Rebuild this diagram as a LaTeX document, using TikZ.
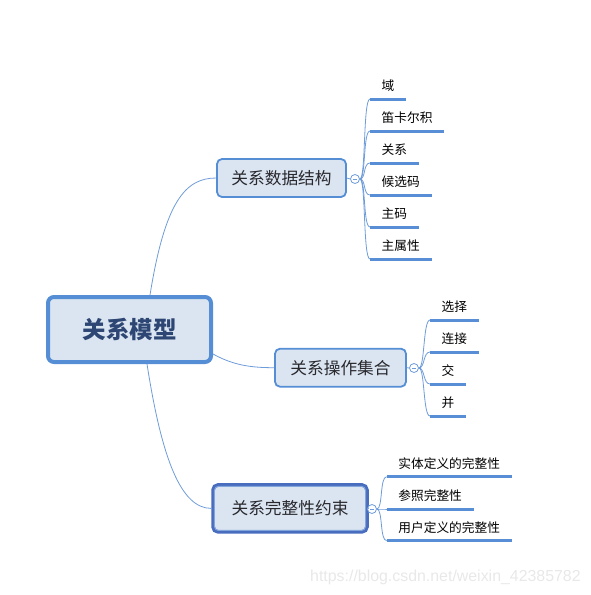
\documentclass[tikz,border=0pt]{standalone}
\usepackage{fontspec}
\newfontfamily\cjk{Noto Sans CJK SC}
\newfontfamily\wmfont{Liberation Sans}
\definecolor{rootb}{RGB}{85,142,213}
\definecolor{fillc}{RGB}{219,229,241}
\definecolor{n3b}{RGB}{72,108,190}
\definecolor{n3in}{RGB}{130,165,220}
\definecolor{ulc}{RGB}{88,142,214}
\definecolor{linkc}{RGB}{110,155,217}
\definecolor{roottxt}{RGB}{45,70,115}
\definecolor{ntxt}{RGB}{40,40,45}
\begin{document}
\begin{tikzpicture}[x=1pt,y=-1pt,
  rootbox/.style={draw=rootb, line width=4pt, fill=fillc, rounded corners=6pt,
    minimum width=163pt, minimum height=65pt, inner sep=0pt,
    font=\cjk\bfseries\fontsize{23.5}{26}\selectfont, text=roottxt},
  topicbox/.style={draw=rootb, line width=1.8pt, fill=fillc, rounded corners=5pt,
    minimum height=38pt, inner sep=0pt,
    font=\cjk\fontsize{16.7}{19}\selectfont, text=ntxt},
  leaf/.style={anchor=south west, inner xsep=11.5pt, inner ysep=8pt, text depth=0pt,
    font=\cjk\fontsize{12.7}{14}\selectfont, text=black},
  uline/.style={draw=ulc, line width=3pt},
  conn/.style={draw=linkc, line width=0.8pt},
  collapse/.style={circle, draw=linkc, line width=0.8pt, fill=white, minimum size=9pt, inner sep=0pt},
]
\useasboundingbox (0,0) rectangle (590,595);

% main nodes
\node[rootbox] (root) at (129.5,329.5) {关系模型};
\node[topicbox, minimum width=129pt] (n1) at (281.5,178) {关系数据结构};
\node[topicbox, minimum width=131pt] (n2) at (340.5,367.7) {关系操作集合};
\node[topicbox, draw=n3b, line width=3.5pt, minimum width=154pt, minimum height=47pt] (n3) at (290,508.4) {关系完整性约束};
\draw[draw=n3in, line width=1pt, rounded corners=4pt]
  ([shift={(3.2pt,-3.2pt)}]n3.north west) rectangle ([shift={(-3.2pt,3.2pt)}]n3.south east);

% root connectors
\draw[conn] ([xshift=20.5pt]root.north) .. controls +(15,-93) and +(-31,0) .. (n1.west);
\draw[conn] ([yshift=-24.5pt]root.east) .. controls +(20,11) and +(-24,0) .. (n2.west);
\draw[conn] ([xshift=17.5pt]root.south) .. controls +(15,96) and +(-30,0) .. (n3.west);

% collapse markers
\node[collapse] (k1) at (355,179) {};
\node[collapse] (k2) at (414,368) {};
\node[collapse] (k3) at (372,509) {};
\foreach \k in {k1,k2,k3}{\draw[linkc, line width=0.6pt] ([xshift=-2.2pt]\k.center) -- ([xshift=2.2pt]\k.center);}
\draw[conn] (n1.east) -- (k1.west);
\draw[conn] (n2.east) -- (k2.west);
\draw[conn] (n3.east) -- (k3.west);

% leaves of n1
\node[leaf] (a1) at (370,99) {域};
\node[leaf] (a2) at (370,131) {笛卡尔积};
\node[leaf] (a3) at (370,163) {关系};
\node[leaf] (a4) at (370,195) {候选码};
\node[leaf] (a5) at (370,227) {主码};
\node[leaf] (a6) at (370,259) {主属性};
% leaves of n2
\node[leaf] (b1) at (430,320) {选择};
\node[leaf] (b2) at (430,352) {连接};
\node[leaf] (b3) at (430,384) {交};
\node[leaf] (b4) at (430,416) {并};
% leaves of n3
\node[leaf] (c1) at (386.7,476.7) {实体定义的完整性};
\node[leaf] (c2) at (386.7,509) {参照完整性};
\node[leaf] (c3) at (386.7,540.7) {用户定义的完整性};

\foreach \l in {a1,a2,a3,a4,a5,a6}{
  \draw[conn] (k1.east) .. controls +(6,0) and +(-7,0) .. (\l.south west);
  \draw[uline] (\l.south west) -- (\l.south east);}
\foreach \l in {b1,b2,b3,b4}{
  \draw[conn] (k2.east) .. controls +(6,0) and +(-7,0) .. (\l.south west);
  \draw[uline] (\l.south west) -- (\l.south east);}
\foreach \l in {c1,c2,c3}{
  \draw[conn] (k3.east) .. controls +(6,0) and +(-7,0) .. (\l.south west);
  \draw[uline] (\l.south west) -- (\l.south east);}

% watermark
\node[anchor=west, inner sep=0pt, font=\wmfont\fontsize{15.9}{18}\selectfont, text=black!9] (wm) at (310,577) {https://blog.csdn.net/weixin\_42385782};
\end{tikzpicture}
\end{document}
